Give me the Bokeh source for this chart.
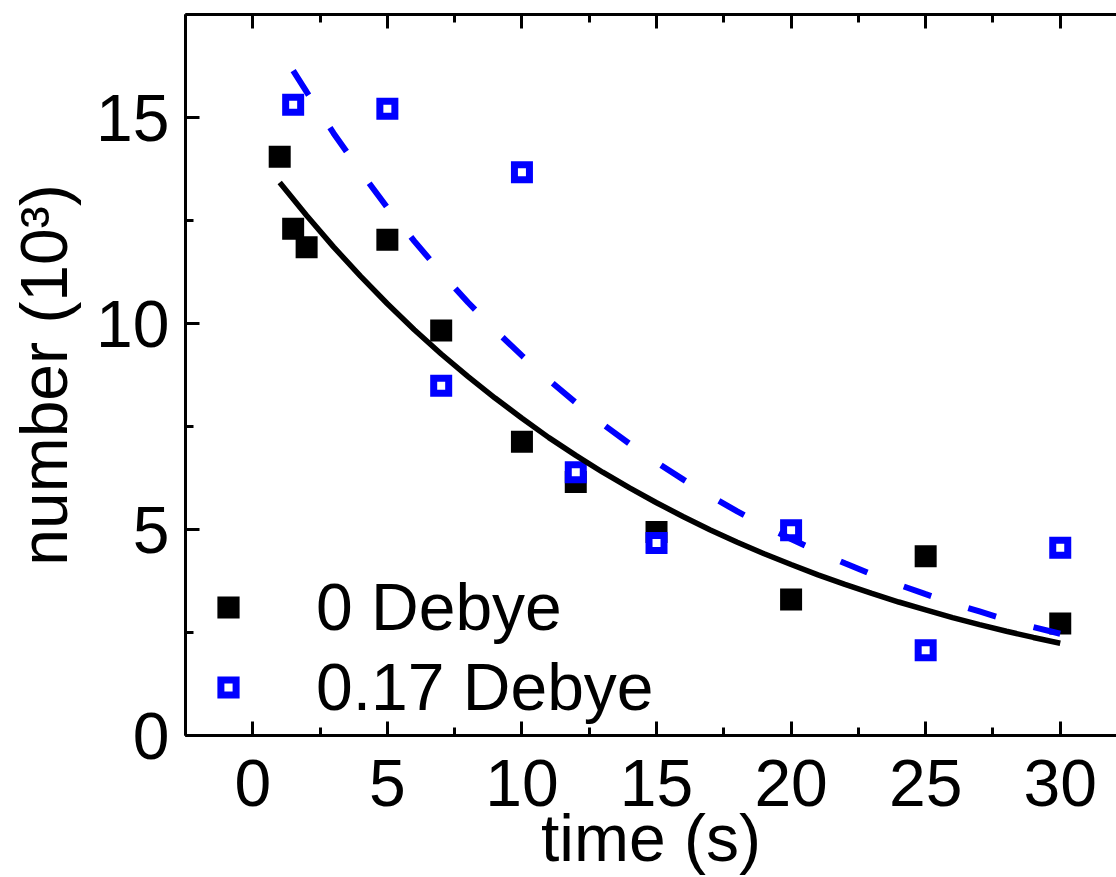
from bokeh.plotting import figure
from bokeh.models import (Legend, LegendItem, LinearAxis, SingleIntervalTicker,
                          CustomJSTickFormatter, Range1d)
from bokeh.embed import file_html
from bokeh.resources import INLINE

# ---- data ----
t_black = [1, 1.5, 2, 5, 7, 10, 12, 15, 20, 25, 30]
n_black = [14.05, 12.3, 11.85, 12.03, 9.83, 7.13, 6.15, 4.94, 3.30, 4.35, 2.72]
t_blue = [1.5, 5, 7, 10, 12, 15, 20, 25, 30]
n_blue = [15.31, 15.21, 8.49, 13.67, 6.39, 4.67, 4.98, 2.07, 4.56]

# fitted curves
fit_t_black = [1, 2, 3, 4, 5, 6, 7, 8, 9, 10, 11, 12, 13, 14, 15,
               16, 17, 18, 19, 20, 21, 22, 23, 24, 25, 26, 27, 28, 29, 30]
fit_n_black = [13.42, 12.62, 11.86, 11.15, 10.48, 9.85, 9.26, 8.71, 8.19, 7.70,
               7.23, 6.80, 6.39, 6.01, 5.65, 5.31, 4.99, 4.69, 4.41, 4.15,
               3.90, 3.67, 3.45, 3.24, 3.05, 2.86, 2.69, 2.53, 2.38, 2.24]
fit_t_blue = [1.5, 2, 3, 4, 5, 6, 7, 8, 9, 10, 11, 12, 13, 14, 15,
              16, 17, 18, 19, 20, 21, 22, 23, 24, 25, 26, 27, 28, 29, 30]
fit_n_blue = [16.14, 15.62, 14.62, 13.69, 12.81, 12.00, 11.23, 10.51, 9.84, 9.22,
              8.63, 8.08, 7.56, 7.08, 6.63, 6.21, 5.81, 5.44, 5.09, 4.77,
              4.46, 4.18, 3.91, 3.66, 3.43, 3.21, 3.01, 2.81, 2.63, 2.47]

labels = ["0 Debye", "0.17 Debye"]
x_title = "time (s)"
y_title = "number (10\u00b3)"

FONT = "Liberation Sans"
FS = "66px"

p = figure(width=1116, height=877, output_backend="svg", toolbar_location=None,
           x_range=Range1d(-2.5, 32.09), y_range=Range1d(0, 17.5),
           min_border_left=185, min_border_right=0, min_border_top=14, min_border_bottom=142)
p.xgrid.visible = False
p.ygrid.visible = False
p.outline_line_color = None
p.background_fill_color = "white"
p.border_fill_color = "white"

p.xaxis.ticker = SingleIntervalTicker(interval=5, num_minor_ticks=2)
p.yaxis.ticker = SingleIntervalTicker(interval=5, num_minor_ticks=2)

def style(ax):
    ax.axis_line_width = 3
    ax.axis_line_color = "black"
    ax.major_tick_line_width = 3
    ax.minor_tick_line_width = 3
    ax.major_tick_line_color = "black"
    ax.minor_tick_line_color = "black"
    ax.major_tick_in = 14
    ax.major_tick_out = 0
    ax.minor_tick_in = 8
    ax.minor_tick_out = 0
    ax.major_label_text_font = FONT
    ax.major_label_text_font_size = FS
    ax.major_label_text_color = "black"
    ax.axis_label_text_font = FONT
    ax.axis_label_text_font_size = FS
    ax.axis_label_text_font_style = "normal"
    ax.axis_label_text_color = "black"

for ax in p.xaxis + p.yaxis:
    style(ax)
p.xaxis.major_label_standoff = 24
p.yaxis.major_label_standoff = 16
p.xaxis.axis_label = x_title
p.xaxis.axis_label_standoff = -8
p.yaxis.axis_label = y_title
p.yaxis.axis_label_standoff = 12

top = LinearAxis(ticker=SingleIntervalTicker(interval=5, num_minor_ticks=2),
                 formatter=CustomJSTickFormatter(code="return ''"))
style(top)
top.major_label_text_font_size = "1px"
top.major_label_standoff = 0
p.add_layout(top, "above")

r_black = p.scatter(t_black, n_black, marker="square", size=15, fill_color="black",
                    line_color="black", line_width=7, line_join="miter")
r_blue = p.scatter(t_blue, n_blue, marker="square", size=15, fill_color="white",
                   line_color="#0000FF", line_width=7, line_join="miter")
p.line(fit_t_black, fit_n_black, line_color="black", line_width=5.5)
p.line(fit_t_blue, fit_n_blue, line_color="#0000FF", line_width=6, line_dash="29 39")

legend = Legend(items=[LegendItem(label=labels[0], renderers=[r_black]),
                       LegendItem(label=labels[1], renderers=[r_blue])],
                location=(24, 10), glyph_width=38, glyph_height=38,
                label_text_font=FONT, label_text_font_size=FS, label_standoff=69,
                label_text_color="black",
                spacing=4, padding=0, margin=0, border_line_color=None,
                background_fill_alpha=0)
p.add_layout(legend)

open("out.html", "w").write(file_html(p, INLINE))
